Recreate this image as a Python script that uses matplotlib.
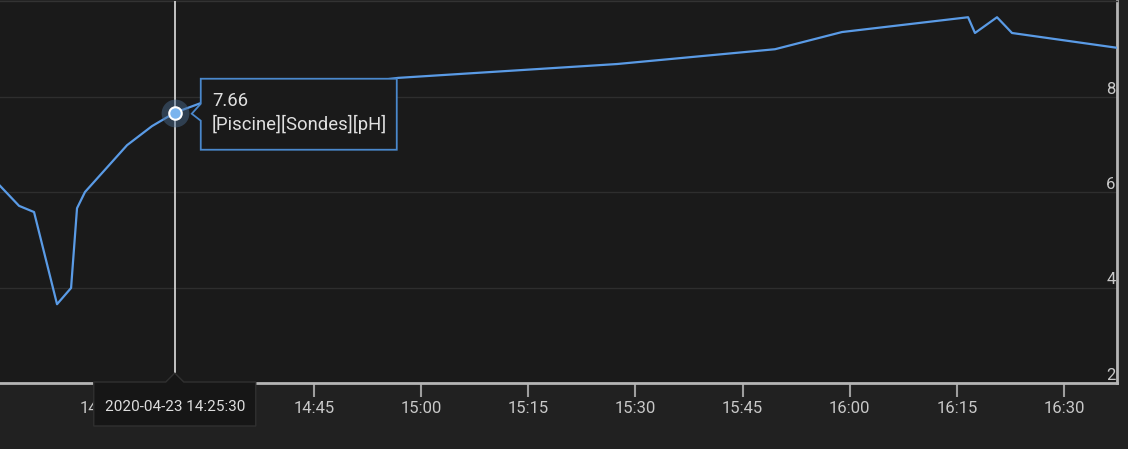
""" pH history graph (dark theme) with hover tooltip """
import matplotlib
matplotlib.use('Agg')
import matplotlib.pyplot as plt
import matplotlib.dates as mdates
import matplotlib.transforms as mtransforms
from matplotlib.patches import Polygon
import pandas as pd

# data
times = ['2020-04-23 14:01:02', '2020-04-23 14:03:42', '2020-04-23 14:05:48',
         '2020-04-23 14:09:01', '2020-04-23 14:10:59', '2020-04-23 14:11:49',
         '2020-04-23 14:12:56', '2020-04-23 14:18:49', '2020-04-23 14:22:19',
         '2020-04-23 14:25:30', '2020-04-23 14:29:28', '2020-04-23 14:56:46',
         '2020-04-23 15:27:25', '2020-04-23 15:49:32', '2020-04-23 15:58:55',
         '2020-04-23 16:16:34', '2020-04-23 16:17:32', '2020-04-23 16:20:37',
         '2020-04-23 16:22:43', '2020-04-23 16:37:25']
ph_values = [6.13, 5.71, 5.58, 3.65, 3.99, 5.66, 6.0, 6.98, 7.38, 7.66, 7.88,
             8.39, 8.68, 8.99, 9.35, 9.66, 9.33, 9.66, 9.33, 9.02]
y_ticks = [2, 4, 6, 8]
x_start = '2020-04-23 14:01:02'
x_end = '2020-04-23 16:37:25'

hover_time = '2020-04-23 14:25:30'
hover_value = 7.66
sensor_name = '[Piscine][Sondes][pH]'

plt.rcParams['font.family'] = ['Roboto', 'DejaVu Sans']

t = pd.to_datetime(times)
fig = plt.figure(figsize=(11.28, 4.49), dpi=100, facecolor='#212121')
ax = fig.add_axes([0, 66 / 449, 1117 / 1128, 382 / 449])
ax.set_facecolor('#1a1a1a')

ax.plot(t, ph_values, color='#5a9be6', lw=1.6, zorder=3)
ax.set_xlim(pd.Timestamp(x_start), pd.Timestamp(x_end))
ax.set_ylim(2, 10)

# x axis
ax.xaxis.set_major_locator(mdates.MinuteLocator(byminute=[0, 15, 30, 45]))
ax.xaxis.set_major_formatter(mdates.DateFormatter('%H:%M'))
ax.tick_params(axis='x', length=10, width=1.5, color='#9e9e9e',
               labelcolor='#c8c8c8', labelsize=12, pad=3)

# y axis, labels inside on the right
ax.yaxis.tick_right()
ax.set_yticks(y_ticks)
ax.tick_params(axis='y', length=0, pad=-1, labelsize=12, labelcolor='#c8c8c8')
for lbl in ax.get_yticklabels():
    lbl.set_ha('right')
    lbl.set_va('bottom')
ax.grid(axis='y', color='#2e2e2e', lw=1)

ax.spines['left'].set_visible(False)
ax.spines['top'].set_color('#333333')
ax.spines['top'].set_linewidth(1)
for side in ['right', 'bottom']:
    ax.spines[side].set_color('#b5b5b5')
    ax.spines[side].set_linewidth(2)

# hover cursor
hx = mdates.date2num(pd.Timestamp(hover_time))
ax.axvline(hx, ymin=10 / 382, ymax=1, color='#d0d0d0', lw=1.3, zorder=4)
ax.plot(hx, hover_value, 'o', ms=20, color='#4a6d94', alpha=0.45, mew=0, zorder=5)
ax.plot(hx, hover_value, 'o', ms=9, mfc='#7ab4ee', mec='white', mew=1.5, zorder=6)

# value tooltip, offsets in pixels from the hovered point
pt_trans = mtransforms.ScaledTranslation(hx, hover_value, ax.transData)
tip = Polygon([(26, 34), (222, 34), (222, -37), (26, -37), (26, -8), (17, -1), (26, 9)],
              closed=True, transform=pt_trans, facecolor='#1a1a1a',
              edgecolor='#4a88cc', lw=1.3, zorder=10, clip_on=False)
ax.add_artist(tip)
ax.text(37, 12, f'{hover_value:.2f}', transform=pt_trans, ha='left', va='center',
        fontsize=13.3, color='#e0e0e0', zorder=11)
ax.text(37, -12, sensor_name, transform=pt_trans, ha='left', va='center',
        fontsize=13.3, color='#e0e0e0', zorder=11)

# date tooltip on the time axis
bot = mtransforms.blended_transform_factory(ax.transData, ax.transAxes)
bot_trans = mtransforms.ScaledTranslation(hx, 0, bot)
dtip = Polygon([(-81, 1), (-9, 1), (0, 10), (9, 1), (81, 1), (81, -43), (-81, -43)],
               closed=True, transform=bot_trans, facecolor='#161616',
               edgecolor='#303030', lw=1, zorder=10, clip_on=False)
ax.add_artist(dtip)
ax.text(0, -24, hover_time, transform=bot_trans, ha='center', va='center',
        fontsize=11, color='#dddddd', zorder=11)

fig.savefig('out.png', dpi=100, facecolor=fig.get_facecolor())
